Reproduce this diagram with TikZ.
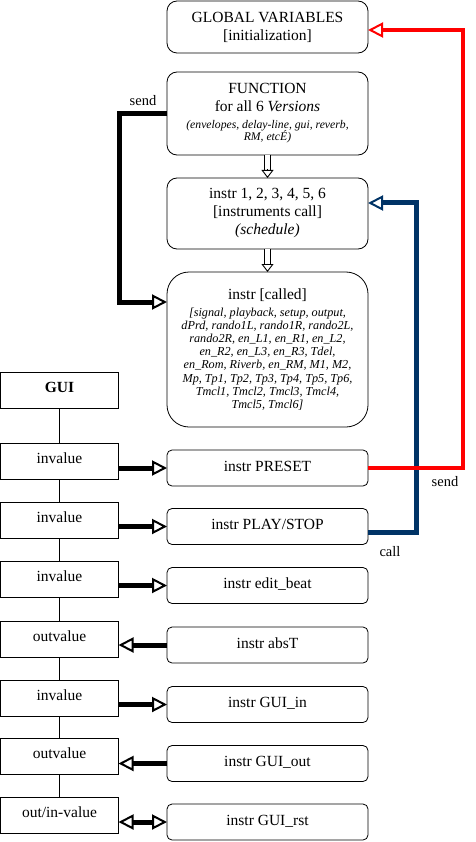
\documentclass[tikz,border=0pt]{standalone}
\usepackage{fontspec}
\setmainfont{Liberation Serif}
\usetikzlibrary{arrows.meta,calc}
\definecolor{navyline}{HTML}{003366}
\definecolor{redline}{HTML}{FF0000}
\newcommand\fnsmall{\fontsize{11.7}{12}\selectfont\itshape}
\newcommand\calledit{\fontsize{12.2}{13}\selectfont\itshape}
\begin{document}
\begin{tikzpicture}[x=1pt,y=-1pt,
  every node/.style={inner sep=0pt, outer sep=0pt},
  bigbox/.style={draw, line width=0.8pt, rounded corners=10pt, minimum width=201pt, align=center, font=\fontsize{15.5}{18}\selectfont},
  rightbox/.style={draw, line width=0.8pt, rounded corners=5pt, minimum width=201pt, minimum height=36pt, text height=11pt, text depth=5pt, font=\fontsize{15.5}{18}\selectfont},
  guibox/.style={draw, line width=0.8pt, minimum width=118pt, minimum height=36pt, text height=11pt, text depth=7pt, font=\fontsize{15.5}{18}\selectfont},
  lbl/.style={font=\fontsize{14.5}{17}\selectfont},
  link/.style={line width=0.8pt},
  fatarrow/.style={line width=5pt, -{Triangle[open, length=15pt, width=15pt, line width=2pt]}},
  fatboth/.style={line width=5pt, {Triangle[open, length=15pt, width=15pt, line width=2pt]}-{Triangle[open, length=15pt, width=15pt, line width=2pt]}},
  sendline/.style={draw=redline, line width=4.5pt, line join=miter, -{Triangle[open, length=15pt, width=15pt, line width=2pt]}},
  callline/.style={draw=navyline, line width=5pt, line join=miter, -{Triangle[open, length=15pt, width=15pt, line width=2pt]}},
  blackline/.style={draw=black, line width=5pt, line join=miter, -{Triangle[open, length=15pt, width=15pt, line width=2pt]}},
  dblshaft/.style={line width=0.8pt, double distance=5pt},
  hollowhead/.style={line width=0.9pt, -{Triangle[open, length=8pt, width=12pt, line width=0.9pt]}}
]
\useasboundingbox (0,0) rectangle (475,842);

% top boxes
\node[bigbox, minimum height=52pt] (gv) at (267.5,27) {GLOBAL VARIABLES\\ {[initialization]}};
\node[bigbox, minimum height=83pt] (fn) at (267.5,113.5) {FUNCTION\\ for all 6 \textit{Versions}\\[-1pt] \fnsmall (envelopes, delay-line, gui, reverb,\\[-6pt] \fnsmall RM, etcÉ)};
\node[bigbox, minimum height=71pt] (i16) at (267.5,213.5) {instr 1, 2, 3, 4, 5, 6\\ {[instruments call]}\\ \textit{(schedule)}};
\node[bigbox, rounded corners=22pt, minimum height=155pt] (called) at (267.5,349.5) {instr [called]\\[-1.3pt]
 \calledit [signal, playback, setup, output,\\[-4.8pt]
 \calledit dPrd, rando1L, rando1R, rando2L,\\[-4.8pt]
 \calledit rando2R, en\_L1, en\_R1, en\_L2,\\[-4.8pt]
 \calledit en\_R2, en\_L3, en\_R3, Tdel,\\[-4.8pt]
 \calledit en\_Rom, Riverb, en\_RM, M1, M2,\\[-4.8pt]
 \calledit Mp, Tp1, Tp2, Tp3, Tp4, Tp5, Tp6,\\[-4.8pt]
 \calledit Tmcl1, Tmcl2, Tmcl3, Tmcl4,\\[-4.8pt]
 \calledit Tmcl5, Tmcl6]};

% GUI column
\node[guibox] (gui) at (59.5,390) {\textbf{GUI}};
\node[guibox] (v1) at (59.5,461) {invalue};
\node[guibox] (v2) at (59.5,520.5) {invalue};
\node[guibox] (v3) at (59.5,579.5) {invalue};
\node[guibox] (v4) at (59.5,639) {outvalue};
\node[guibox] (v5) at (59.5,698.5) {invalue};
\node[guibox] (v6) at (59.5,756.5) {outvalue};
\node[guibox] (v7) at (59.5,815.5) {out/in-value};

% instrument boxes
\node[rightbox] (pre) at (267.5,468) {instr PRESET};
\node[rightbox] (play) at (267.5,526.5) {instr PLAY/STOP};
\node[rightbox] (edit) at (267.5,585.5) {instr edit\_beat};
\node[rightbox] (abst) at (267.5,645) {instr absT};
\node[rightbox] (guiin) at (267.5,704.5) {instr GUI\_in};
\node[rightbox] (guiout) at (267.5,763.5) {instr GUI\_out};
\node[rightbox] (guirst) at (267.5,822) {instr GUI\_rst};

% GUI spine
\draw[link] (gui.south) -- (v1.north);
\draw[link] (v1.south) -- (v2.north);
\draw[link] (v2.south) -- (v3.north);
\draw[link] (v3.south) -- (v4.north);
\draw[link] (v4.south) -- (v5.north);
\draw[link] (v5.south) -- (v6.north);
\draw[link] (v6.south) -- (v7.north);

% GUI <-> instruments
\draw[fatarrow] (v1.east |- pre.west) -- (pre.west);
\draw[fatarrow] (v2.east |- play.west) -- (play.west);
\draw[fatarrow] (v3.east |- edit.west) -- (edit.west);
\draw[fatarrow] (abst.west) -- (v4.east |- abst.west);
\draw[fatarrow] (v5.east |- guiin.west) -- (guiin.west);
\draw[fatarrow] (guiout.west) -- (v6.east |- guiout.west);
\draw[fatboth] (v7.east |- guirst.west) -- (guirst.west);

% hollow double arrows
\draw[dblshaft] (fn.south) -- ($(i16.north)+(0,-8)$);
\draw[hollowhead] ($(i16.north)+(0,-8.5)$) -- (i16.north);
\draw[dblshaft] (i16.south) -- ($(called.north)+(0,-8)$);
\draw[hollowhead] ($(called.north)+(0,-8.5)$) -- (called.north);

% send / call lines
\draw[blackline] (fn.west) -| ($(called.west)+(-47.5,-47.5)$) -- ([yshift=47.5pt]called.west);
\draw[callline] ([yshift=-5.5pt]play.east) -| ($(i16.east)+(48,-10.5)$) -- ([yshift=10.5pt]i16.east);
\draw[sendline] (pre.east) -| ($(gv.east)+(95,3)$) -- ([yshift=-3pt]gv.east);

% labels
\node[lbl] (sendL) at (143,101) {send};
\node[lbl] (sendR) at (445,482) {send};
\node[lbl] (callR) at (390,552) {call};
\end{tikzpicture}
\end{document}
